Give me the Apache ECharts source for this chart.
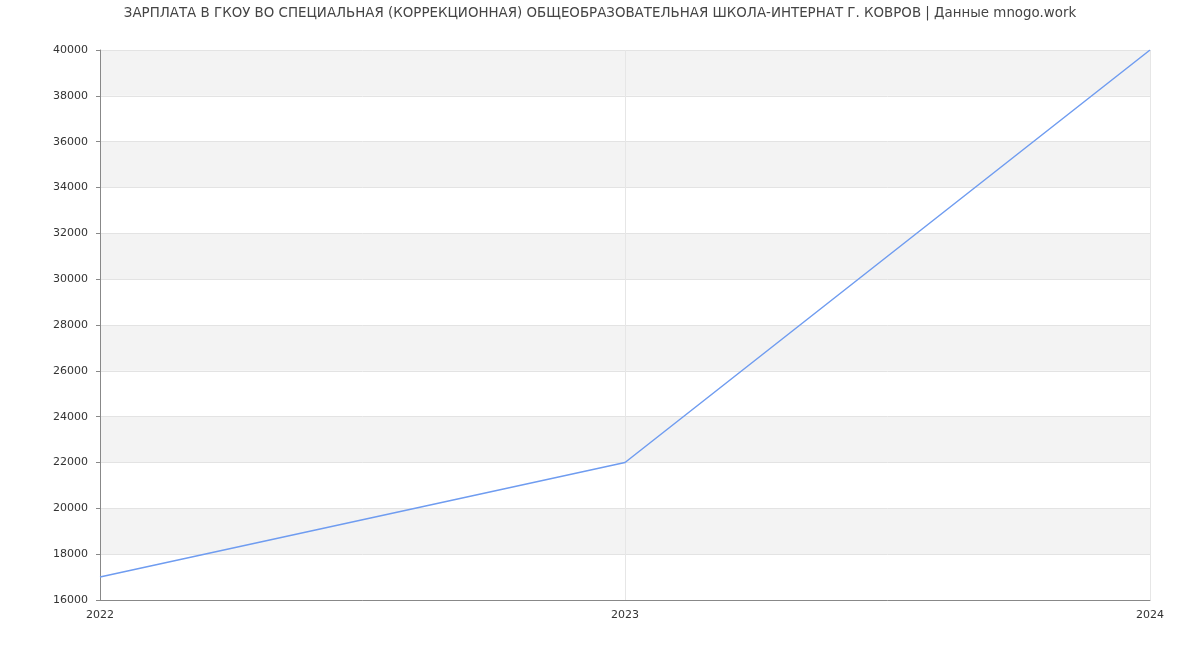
<!DOCTYPE html>
<html><head><meta charset="utf-8">
<script src="https://cdn.jsdelivr.net/npm/echarts@6/dist/echarts.min.js"></script>
<style>html,body{margin:0;padding:0;background:#fff}#c{width:1200px;height:650px}</style>
</head><body><div id="c"></div>
<script>
const years = ['2022', '2023', '2024'];
const salary = [17000, 22000, 40000];
const titleText = 'ЗАРПЛАТА В ГКОУ ВО СПЕЦИАЛЬНАЯ (КОРРЕКЦИОННАЯ) ОБЩЕОБРАЗОВАТЕЛЬНАЯ ШКОЛА-ИНТЕРНАТ Г. КОВРОВ | Данные mnogo.work';
const chart = echarts.init(document.getElementById('c'));
chart.setOption({
  animation: false,
  textStyle: {fontFamily: 'DejaVu Sans'},
  title: {text: titleText, left: 'center', top: 2,
    textStyle: {fontSize: 13.4, fontWeight: 'normal', color: '#444', fontFamily: 'DejaVu Sans'}},
  grid: {left: 100, right: 50, top: 50, bottom: 50},
  xAxis: {type: 'category', data: years, boundaryGap: false,
    axisLine: {lineStyle: {color: '#888'}},
    axisTick: {show: false},
    axisLabel: {color: '#333', fontSize: 11, margin: 10},
    splitLine: {show: true, lineStyle: {color: '#e6e6e6'}}},
  yAxis: {type: 'value', min: 16000, max: 40000, interval: 2000,
    axisLine: {show: true, lineStyle: {color: '#888'}},
    axisTick: {show: true, length: 4, lineStyle: {color: '#888'}},
    axisLabel: {color: '#333', fontSize: 11, margin: 12, formatter: v => String(v)},
    splitLine: {show: true, lineStyle: {color: '#e3e3e3'}},
    splitArea: {show: true, areaStyle: {color: ['#ffffff', '#f3f3f3']}}},
  series: [{type: 'line', data: salary, symbol: 'none',
    lineStyle: {color: '#6f9cf0', width: 1.5}, itemStyle: {color: '#6f9cf0'}}]
});
</script></body></html>
